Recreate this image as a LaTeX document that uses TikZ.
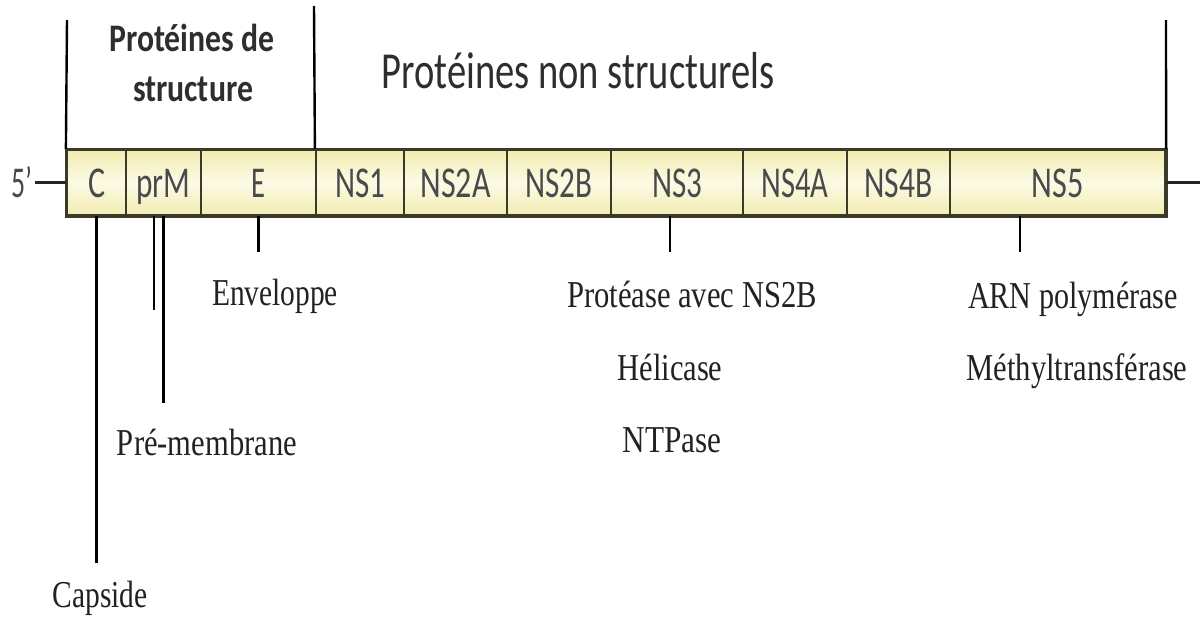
\documentclass[tikz,border=0pt]{standalone}
\usepackage{fontspec}
\setmainfont{Liberation Serif}
\newfontfamily\sansf{Carlito}
\usetikzlibrary{calc}
\newcommand{\fitw}[2]{\resizebox{#1pt}{\height}{#2}}
\definecolor{barY}{HTML}{F2ECB0}
\definecolor{barW}{HTML}{FCFAE6}
\definecolor{segline}{HTML}{3A3A28}
\definecolor{labgray}{HTML}{4A4A4A}
\definecolor{headgray}{HTML}{2E2E2E}
\definecolor{serifc}{HTML}{222222}
\begin{document}
\begin{tikzpicture}[x=1pt,y=-1pt,
  seg/.style={draw=segline, line width=2.2pt, rectangle, inner sep=0pt,
    minimum height=65pt, top color=barY, bottom color=barY, middle color=barW,
    text height=30pt, text depth=0pt, text=labgray,
    font=\sansf\fontsize{44}{44}\selectfont},
  lab/.style={anchor=base, inner sep=2pt, text=serifc, font=\fontsize{38}{38}\selectfont},
  head/.style={anchor=base, inner sep=2pt, text=headgray},
  tick/.style={line width=2.2pt, black},
  frame/.style={line width=2.4pt, black}]
\useasboundingbox[fill=white] (0,0) rectangle (1200,619);

% segments
\node[seg, minimum width=59pt]  (C)    at (96.5,182.5)  {\fitw{17}{C}};
\node[seg, minimum width=75pt]  (prM)  at (163.5,182.5) {\fitw{54}{prM}};
\node[seg, minimum width=115pt] (E)    at (258.5,182.5) {\fitw{14}{E}};
\node[seg, minimum width=88pt]  (NS1)  at (360,182.5)   {\fitw{50}{NS1}};
\node[seg, minimum width=103pt] (NS2A) at (455.5,182.5) {\fitw{70}{NS2A}};
\node[seg, minimum width=104pt] (NS2B) at (559,182.5)   {\fitw{67}{NS2B}};
\node[seg, minimum width=132pt] (NS3)  at (677,182.5)   {\fitw{50}{NS3}};
\node[seg, minimum width=104pt] (NS4A) at (795,182.5)   {\fitw{67}{NS4A}};
\node[seg, minimum width=103pt] (NS4B) at (898.5,182.5) {\fitw{68}{NS4B}};
\node[seg, minimum width=215pt] (NS5)  at (1057.5,182.5){\fitw{52}{NS5}};
\draw[line width=2.8pt, segline] (C.north west) rectangle (NS5.south east);

% 5' end and 3' tail
\node[anchor=base, inner sep=2pt, text=labgray, font=\sansf\fontsize{44}{44}\selectfont] (five) at (22,197) {\fitw{21}{5’}};
\coordinate (tailR) at (1200,182.5);
\draw[line width=3pt, black!85] (five.east |- C.west) -- (C.west);
\draw[line width=3pt, black!85] (NS5.east) -- (tailR);

% headers
\node[head, font=\sansf\bfseries\fontsize{39}{39}\selectfont] (h1a) at (192,51) {\fitw{165}{Protéines de}};
\node[head, font=\sansf\bfseries\fontsize{39}{39}\selectfont] (h1b) at (193,101) {\fitw{120}{structure}};
\node[head, font=\sansf\fontsize{52}{52}\selectfont] (h2) at (578,88) {\fitw{393}{Protéines non structurels}};

% top frame lines
\coordinate (topL) at (67,20);
\coordinate (topM) at (314,6);
\coordinate (topR) at (1166,20);
\draw[frame] (topL) -- (C.north west);
\draw[frame] (topM) -- (NS1.north west);
\draw[frame] (topR) -- (NS5.north east);

% labels
\node[lab] (cap)  at (100,607)  {\fitw{95}{Capside}};
\node[lab] (pre)  at (207,455)  {\fitw{180}{Pré-membrane}};
\node[lab] (env)  at (275,305)  {\fitw{126}{Enveloppe}};
\node[lab] (prot) at (692,307)  {\fitw{250}{Protéase avec NS2B}};
\node[lab] (hel)  at (670,380)  {\fitw{105}{Hélicase}};
\node[lab] (ntp)  at (672,452)  {\fitw{99}{NTPase}};
\node[lab] (arn)  at (1073,308) {\fitw{210}{ARN polymérase}};
\node[lab] (meth) at (1077,380) {\fitw{221}{Méthyltransférase}};

% tick connectors
\coordinate (prMa) at (154,310);
\coordinate (Eend) at (258.5,252);
\coordinate (NS3end) at (670,252);
\coordinate (NS5end) at (1020,252);
\draw[tick] (C.south) -- (C.south |- 0,563);
\draw[tick] (prMa |- prM.south) -- (prMa);
\draw[tick] (prM.south) -- (prM.south |- 0,403);
\draw[tick] (E.south) -- (Eend);
\draw[tick] (NS3end |- NS3.south) -- (NS3end);
\draw[tick] (NS5end |- NS5.south) -- (NS5end);
\end{tikzpicture}
\end{document}
